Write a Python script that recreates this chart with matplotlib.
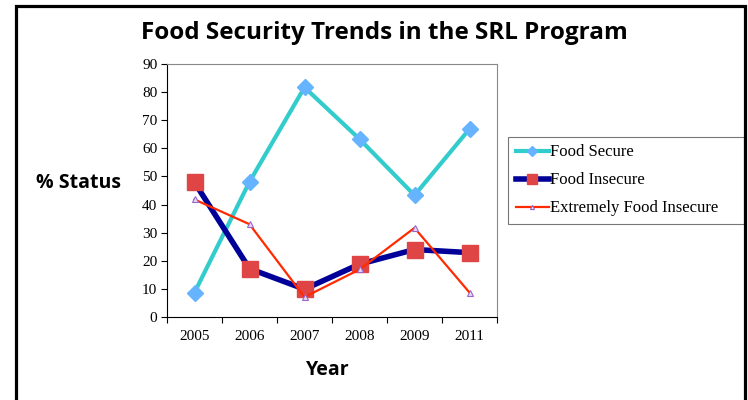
import matplotlib
matplotlib.use('Agg')
import matplotlib.pyplot as plt
from matplotlib.lines import Line2D
from matplotlib.ticker import FixedLocator

# data
years = ['2005', '2006', '2007', '2008', '2009', '2011']
food_secure = [8.7, 48.1, 81.7, 63.3, 43.3, 66.9]
food_insecure = [47.9, 17.2, 9.9, 18.8, 24.0, 22.9]
extremely_insecure = [41.8, 33.0, 7.1, 16.9, 31.7, 8.7]

serif = ['Liberation Serif', 'DejaVu Serif']
sans = ['Open Sans', 'DejaVu Sans']

fig = plt.figure(figsize=(7.48, 4.0), dpi=100)
ax = fig.add_axes([167/748, 83/400, 330/748, 253/400])

x = range(len(years))
ax.plot(x, food_secure, color='#33CCCC', lw=3, marker='D', ms=8,
        mfc='#66B3FF', mec='#66B3FF', label='Food Secure', zorder=3)
ax.plot(x, food_insecure, color='#000099', lw=4, marker='s', ms=11,
        mfc='#E04545', mec='#E04545', label='Food Insecure', zorder=4)
ax.plot(x, extremely_insecure, color='#FF2A00', lw=1.6, marker='^', ms=5,
        mfc='#E8D8F0', mec='#9966CC', mew=0.8,
        label='Extremely Food Insecure', zorder=5)

ax.set_xlim(-0.5, len(years) - 0.5)
ax.set_ylim(0, 90)
ax.set_yticks(range(0, 91, 10))
ax.set_xticks(list(x))
ax.set_xticklabels(years)
ax.xaxis.set_minor_locator(FixedLocator([i - 0.5 for i in range(len(years) + 1)]))
ax.tick_params(axis='x', which='major', length=0, pad=9)
ax.tick_params(axis='x', which='minor', length=4, direction='out', width=0.8)
ax.tick_params(axis='y', length=4, direction='out', width=0.8, pad=3)
for lab in ax.get_xticklabels() + ax.get_yticklabels():
    lab.set_family(serif)
    lab.set_fontsize(11)
for side in ['top', 'right']:
    ax.spines[side].set_color('#888888')
    ax.spines[side].set_linewidth(0.8)
for side in ['left', 'bottom']:
    ax.spines[side].set_color('black')
    ax.spines[side].set_linewidth(0.8)

leg = ax.legend(loc='center left', bbox_to_anchor=(508/748, 1 - 225/400, 236/748, 89/400),
                bbox_transform=fig.transFigure, mode='expand', markerscale=0.6,
                prop={'family': serif, 'size': 12}, frameon=True, fancybox=False,
                handlelength=2.0, handletextpad=0.1, borderpad=0.45,
                labelspacing=0.72, borderaxespad=0)
leg.get_frame().set_edgecolor('#555555')
leg.get_frame().set_linewidth(0.8)

fig.text(384.5/748, 1 - 33/400, 'Food Security Trends in the SRL Program',
         ha='center', va='center', fontsize=17.5, fontweight='bold', family=sans)
fig.text(78/748, 1 - 183/400, '% Status', ha='center', va='center',
         fontsize=14, fontweight='bold', family=sans)
fig.text(328/748, 1 - 370/400, 'Year', ha='center', va='center',
         fontsize=14, fontweight='bold', family=sans)

# slide frame: left, top and right edges
fx0, fx1, fy = 15.5/748, 744.5/748, 1 - 5.5/400
fig.add_artist(Line2D([fx0, fx0, fx1, fx1], [0, fy, fy, 0], color='black',
                      lw=2.3, transform=fig.transFigure, solid_joinstyle='miter'))

fig.savefig('out.png', dpi=100)
